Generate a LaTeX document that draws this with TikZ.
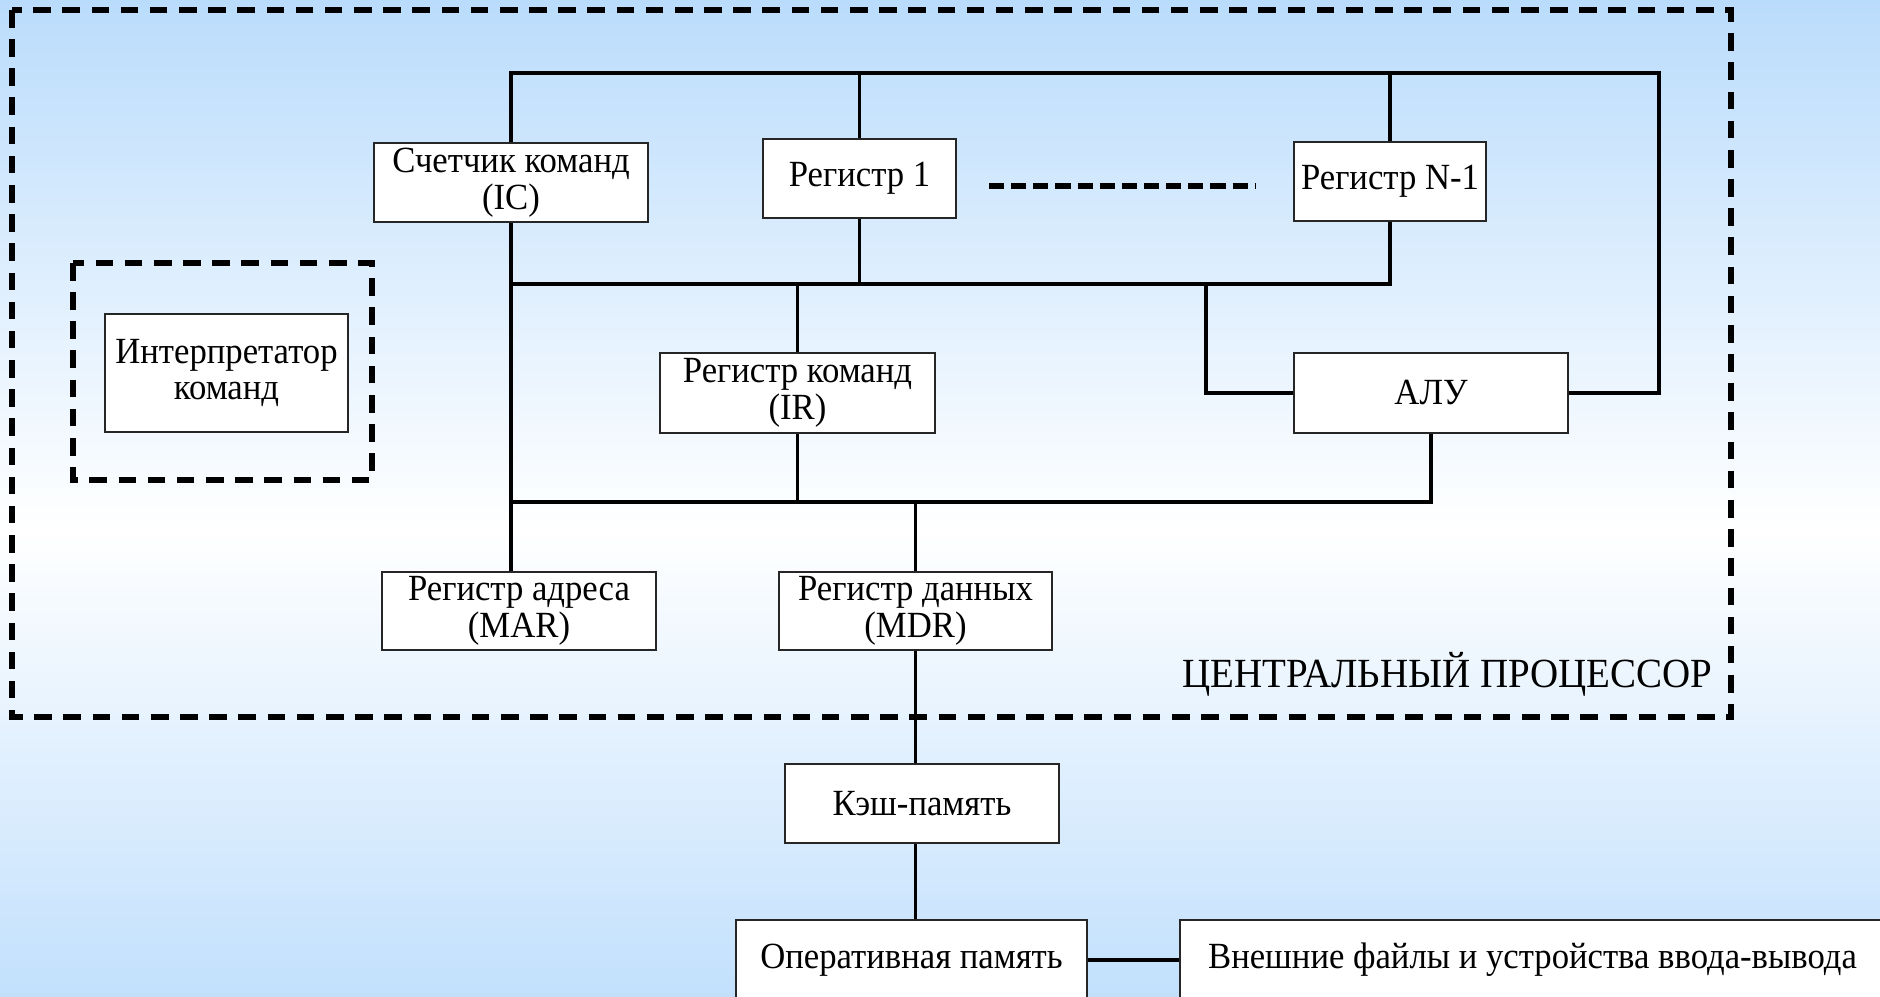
\documentclass[tikz,border=0pt]{standalone}
\usepackage{fontspec}
\setmainfont{Liberation Serif}[FakeStretch=0.94]
\definecolor{bgblue}{RGB}{186,220,252}
\begin{document}
\begin{tikzpicture}[
  box/.style={draw=black!85, line width=0.6pt, fill=white, inner sep=0pt, align=center, font=\fontsize{10.5}{10.5}\selectfont},
  bus/.style={line width=0.9pt},
  frame/.style={line width=1.5pt, dash pattern=on 5pt off 3.3pt},
  dotline/.style={line width=1.6pt, dash pattern=on 4.3pt off 2pt}]
\useasboundingbox (0,0) rectangle (18.8,9.97);
\clip (0,0) rectangle (18.8,9.97);
\shade[top color=bgblue, bottom color=bgblue, middle color=white] (0,-0.6) rectangle (18.8,9.97);

\draw[frame] (0.12,9.87) rectangle (17.31,2.80);
\draw[frame] (0.73,7.34) rectangle (3.72,5.17);
\node[anchor=base east, font=\fontsize{11.8}{11.8}\selectfont] (cpu) at (17.25,3.09) {ЦЕНТРАЛЬНЫЙ ПРОЦЕССОР};

\node[box, minimum width=2.74cm, minimum height=0.79cm] (ic) at (5.11,8.145) {Счетчик команд\\(IC)};
\node[box, minimum width=1.93cm, minimum height=0.79cm] (reg1) at (8.595,8.185) {Регистр 1};
\node[box, minimum width=1.92cm, minimum height=0.79cm] (regn) at (13.90,8.155) {Регистр N-1};
\node[box, minimum width=2.43cm, minimum height=1.18cm] (interp) at (2.265,6.24) {Интерпретатор\\команд};
\node[box, minimum width=2.75cm, minimum height=0.80cm] (ir) at (7.975,6.04) {Регистр команд\\(IR)};
\node[box, minimum width=2.74cm, minimum height=0.80cm] (alu) at (14.31,6.04) {АЛУ};
\node[box, minimum width=2.74cm, minimum height=0.78cm] (mar) at (5.19,3.86) {Регистр адреса\\(MAR)};
\node[box, minimum width=2.73cm, minimum height=0.78cm] (mdr) at (9.155,3.86) {Регистр данных\\(MDR)};
\node[box, minimum width=2.74cm, minimum height=0.79cm] (cache) at (9.22,1.935) {Кэш-память};
\node[box, minimum width=3.51cm, minimum height=0.80cm] (ram) at (9.115,0.37) {Оперативная память};
\node[box, minimum width=7.05cm, minimum height=0.80cm] (ext) at (15.325,0.37) {Внешние файлы и устройства ввода-вывода};

\coordinate (topbus) at (16.59,9.24);
\coordinate (midbus) at (0,7.13);
\coordinate (lowbus) at (0,4.95);
\coordinate (alutap) at (12.06,7.13);

\draw[bus] (ic.north) |- (topbus) |- (alu.east);
\draw[bus] (reg1.north) -- (reg1.north |- topbus);
\draw[bus] (regn.north) -- (regn.north |- topbus);
\draw[bus] (ic.south) -- (ic.south |- mar.north);
\draw[bus] (ic.south |- midbus) -| (regn.south);
\draw[bus] (reg1.south) -- (reg1.south |- midbus);
\draw[bus] (ir.north) -- (ir.north |- midbus);
\draw[bus] (alu.west) -| (alutap);
\draw[bus] (ic.south |- lowbus) -| (alu.south);
\draw[bus] (ir.south) -- (ir.south |- lowbus);
\draw[bus] (mdr.north) -- (mdr.north |- lowbus);
\draw[bus] (mdr.south) -- (mdr.south |- cache.north);
\draw[bus] (cache.south -| mdr.south) -- (mdr.south |- ram.north);
\draw[bus] (ram.east) -- (ext.west);
\draw[dotline] (9.89,8.11) -- (12.56,8.11);
\end{tikzpicture}
\end{document}
